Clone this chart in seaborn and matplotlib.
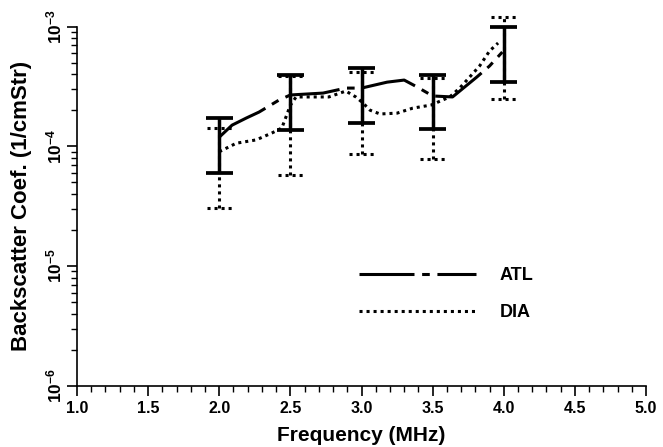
import numpy as np
import pandas as pd
import seaborn as sns
import matplotlib
matplotlib.use('Agg')
import matplotlib.pyplot as plt
from matplotlib.ticker import MultipleLocator, LogLocator

# values
freq_atl = [2.0, 2.09, 2.19, 2.28, 2.42, 2.5, 2.73, 2.89, 3.0, 3.18, 3.30, 3.39, 3.5, 3.64, 3.81, 3.90, 3.99]
atl = [1.19e-4, 1.50e-4, 1.72e-4, 1.93e-4, 2.43e-4, 2.68e-4, 2.78e-4, 3.06e-4, 3.06e-4, 3.43e-4,
       3.57e-4, 3.13e-4, 2.63e-4, 2.58e-4, 3.78e-4, 4.68e-4, 6.12e-4]

freq_dia = [2.0, 2.12, 2.26, 2.37, 2.44, 2.5, 2.54, 2.77, 2.89, 2.96, 3.01, 3.06, 3.13, 3.25, 3.36,
            3.49, 3.62, 3.69, 3.76, 3.83, 3.90, 3.96]
dia = [9.0e-5, 1.06e-4, 1.13e-4, 1.29e-4, 1.42e-4, 2.2e-4, 2.58e-4, 2.58e-4, 2.89e-4, 2.58e-4, 2.3e-4,
       2.0e-4, 1.86e-4, 1.89e-4, 2.08e-4, 2.21e-4, 2.58e-4, 3.06e-4, 3.78e-4, 4.68e-4, 6.24e-4, 7.28e-4]

bar_freq = [2.0, 2.5, 3.0, 3.5, 4.0]
atl_hi = [1.71e-4, 3.94e-4, 4.48e-4, 3.94e-4, 1.0e-3]
atl_lo = [6.0e-5, 1.36e-4, 1.55e-4, 1.38e-4, 3.43e-4]
dia_hi = [1.43e-4, 3.85e-4, 4.19e-4, 3.71e-4, 1.2e-3]
dia_lo = [3.03e-5, 5.74e-5, 8.61e-5, 7.78e-5, 2.48e-4]

sns.set_style('ticks')
plt.rcParams['font.family'] = ['Liberation Sans', 'DejaVu Sans']
plt.rcParams['font.weight'] = 'bold'
plt.rcParams['text.color'] = 'black'
plt.rcParams['axes.labelcolor'] = 'black'
plt.rcParams['xtick.color'] = 'black'
plt.rcParams['ytick.color'] = 'black'
plt.rcParams['axes.edgecolor'] = 'black'
plt.rcParams['mathtext.fontset'] = 'custom'
plt.rcParams['mathtext.rm'] = 'Liberation Sans:bold'
plt.rcParams['mathtext.it'] = 'Liberation Sans:bold'
plt.rcParams['mathtext.bf'] = 'Liberation Sans:bold'

df_atl = pd.DataFrame({'freq': freq_atl, 'coef': atl})
df_dia = pd.DataFrame({'freq': freq_dia, 'coef': dia})

fig = plt.figure(figsize=(6.63, 4.47), dpi=100)
ax = fig.add_axes([0.1161, 0.1371, 0.8583, 0.8036])

dot = (0, (1, 1.3))
longdash = (0, (18, 2.5, 2.5, 2.5))

# DIA error bars (dotted) first, ATL on top
cap_d = 0.088
ax.vlines(bar_freq, dia_lo, dia_hi, colors='black', linewidth=2.2, linestyles=dot, clip_on=False)
for f, lo, hi in zip(bar_freq, dia_lo, dia_hi):
    ax.hlines([lo, hi], f - cap_d, f + cap_d, colors='black', linewidth=2.2, linestyles=dot, clip_on=False)

cap_a = 0.095
ax.vlines(bar_freq, atl_lo, atl_hi, colors='black', linewidth=2.5, clip_on=False)
ax.hlines(atl_lo, np.array(bar_freq) - cap_a, np.array(bar_freq) + cap_a, colors='black', linewidth=2.7, clip_on=False)
ax.hlines(atl_hi, np.array(bar_freq) - cap_a, np.array(bar_freq) + cap_a, colors='black', linewidth=2.7, clip_on=False)

sns.lineplot(data=df_atl, x='freq', y='coef', ax=ax, color='black', linewidth=2.2,
             linestyle=longdash, label='ATL', sort=False, errorbar=None)
sns.lineplot(data=df_dia, x='freq', y='coef', ax=ax, color='black', linewidth=2.2,
             linestyle=dot, label='DIA', sort=False, errorbar=None)

ax.set_yscale('log')
ax.set_ylim(1e-6, 1e-3)
ax.set_xlim(1.0, 5.0)
ax.xaxis.set_major_locator(MultipleLocator(0.5))
ax.xaxis.set_minor_locator(MultipleLocator(0.1))
ax.xaxis.set_major_formatter(matplotlib.ticker.FormatStrFormatter('%.1f'))
ax.yaxis.set_minor_locator(LogLocator(base=10, subs=np.arange(2, 10), numticks=20))

sns.despine(ax=ax)
for s in ['left', 'bottom']:
    ax.spines[s].set_linewidth(1.2)
ax.tick_params(axis='both', which='major', length=7, width=1.2, color='black', labelcolor='black')
ax.tick_params(axis='both', which='minor', length=4, width=1.0, color='black')
ax.tick_params(axis='x', labelsize=11.5, pad=4)
ax.tick_params(axis='y', labelsize=12.5, labelrotation=90, pad=2)
for lab in ax.get_yticklabels():
    lab.set_va('center')

ax.set_xlabel('Frequency (MHz)', fontsize=15, fontweight='bold', labelpad=7)
ax.set_ylabel('Backscatter Coef. (1/cmStr)', fontsize=16, fontweight='bold', labelpad=9)

leg = ax.legend(loc='upper left', bbox_to_anchor=(0.495, 0.33), frameon=False, fontsize=13,
                handlelength=6.5, handletextpad=1.3, labelspacing=1.1, borderpad=0, borderaxespad=0)

fig.savefig('out.png', dpi=100)
